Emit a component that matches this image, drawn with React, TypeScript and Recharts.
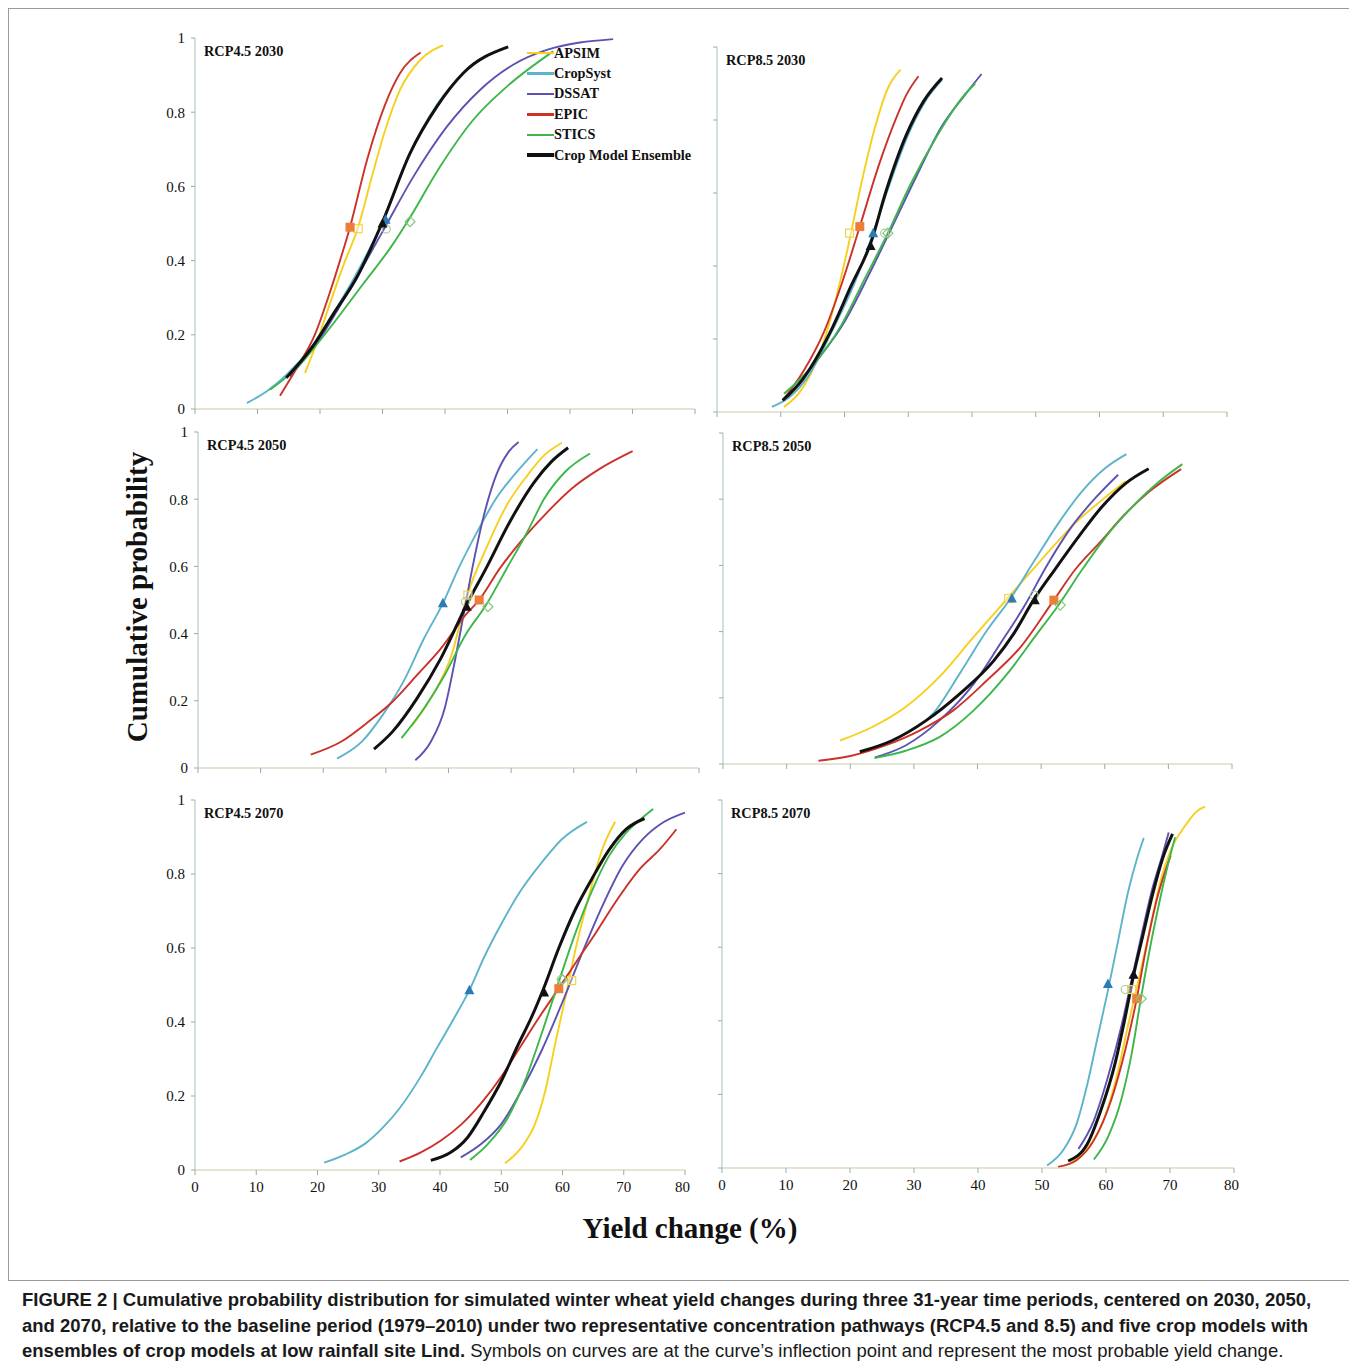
import { ComposedChart, Line, Scatter, XAxis, YAxis } from 'recharts';

const MODELS = ['APSIM', 'CropSyst', 'DSSAT', 'EPIC', 'STICS', 'Crop Model Ensemble'];
const COLORS = ['#F7CF1D', '#5DB4CA', '#5B52B2', '#CB3229', '#3DB64A', '#111111'];
const xTicks = [0, 10, 20, 30, 40, 50, 60, 70, 80];
const yTicks = [0, 0.2, 0.4, 0.6, 0.8, 1];

// [yield change %, cumulative probability]
// RCP4.5 2030
const r45y30Apsim = [[17.6, 0.097], [19.5, 0.18], [21.5, 0.28], [23.8, 0.39], [26.1, 0.49], [28.2, 0.62], [30.4, 0.75], [32.8, 0.86], [36.0, 0.94], [39.7, 0.98]];
const r45y30Cropsyst = [[8.3, 0.016], [11.5, 0.048], [14.7, 0.093], [18.9, 0.174], [22.7, 0.273], [26.4, 0.382], [30.1, 0.508], [34.4, 0.689], [38.7, 0.82], [43.5, 0.914], [50.1, 0.977]];
const r45y30Dssat = [[15.2, 0.088], [20.0, 0.19], [24.3, 0.31], [28.0, 0.418], [30.4, 0.49], [34.9, 0.625], [40.3, 0.761], [45.6, 0.86], [50.9, 0.928], [56.3, 0.968], [66.9, 0.997]];
const r45y30Epic = [[13.6, 0.036], [16.3, 0.111], [19.2, 0.201], [21.5, 0.31], [23.2, 0.4], [24.8, 0.49], [27.5, 0.67], [30.4, 0.82], [32.8, 0.905], [36.1, 0.961]];
const r45y30Stics = [[12.0, 0.052], [16.3, 0.111], [21.6, 0.219], [26.9, 0.337], [31.7, 0.445], [34.1, 0.508], [39.2, 0.653], [44.5, 0.779], [49.9, 0.869], [57.3, 0.964]];
const r45y30Ens = [[14.6, 0.084], [18.9, 0.17], [22.1, 0.255], [25.9, 0.355], [30.0, 0.504], [34.4, 0.689], [38.7, 0.815], [42.9, 0.905], [50.1, 0.976]];
const r45y30Marks = [[26.1, 0.486], [30.5, 0.51], [30.6, 0.485], [24.8, 0.49], [34.4, 0.505], [30.0, 0.5]];

// RCP8.5 2030
const r85y30Apsim = [[10.5, 0.014], [13.0, 0.055], [16.2, 0.165], [18.4, 0.293], [20.5, 0.448], [22.7, 0.631], [24.9, 0.787], [26.8, 0.887], [28.8, 0.938]];
const r85y30Cropsyst = [[8.6, 0.014], [11.4, 0.041], [14.0, 0.09], [18.0, 0.22], [21.5, 0.35], [24.5, 0.49], [27.0, 0.62], [30.0, 0.76], [33.0, 0.86], [35.3, 0.91]];
const r85y30Dssat = [[11.1, 0.041], [15.1, 0.128], [20.0, 0.247], [23.8, 0.375], [27.6, 0.512], [31.4, 0.65], [35.1, 0.778], [38.9, 0.869], [41.5, 0.926]];
const r85y30Epic = [[10.3, 0.032], [13.5, 0.11], [16.8, 0.22], [19.5, 0.348], [22.4, 0.508], [25.4, 0.677], [28.1, 0.805], [29.7, 0.869], [31.6, 0.92]];
const r85y30Stics = [[10.5, 0.05], [14.6, 0.119], [19.5, 0.238], [23.2, 0.366], [26.8, 0.49], [30.3, 0.622], [34.6, 0.759], [38.4, 0.86], [40.5, 0.9]];
const r85y30Ens = [[10.3, 0.032], [13.5, 0.091], [17.8, 0.22], [21.1, 0.348], [24.1, 0.462], [26.5, 0.604], [29.7, 0.759], [32.4, 0.851], [35.3, 0.915]];
const r85y30Marks = [[20.8, 0.49], [24.5, 0.49], [26.3, 0.49], [22.4, 0.508], [26.8, 0.49], [24.1, 0.455]];

// RCP4.5 2050
const r45y50Apsim = [[34.1, 0.124], [37.2, 0.208], [40.5, 0.337], [43.1, 0.52], [46.0, 0.653], [49.3, 0.782], [52.6, 0.871], [55.3, 0.931], [58.1, 0.968]];
const r45y50Cropsyst = [[22.2, 0.028], [26.2, 0.079], [29.5, 0.158], [32.8, 0.257], [36.1, 0.386], [39.1, 0.49], [41.6, 0.594], [44.3, 0.693], [47.6, 0.802], [50.9, 0.881], [54.2, 0.949]];
const r45y50Dssat = [[34.7, 0.023], [37.2, 0.079], [39.4, 0.178], [41.0, 0.317], [42.4, 0.455], [43.8, 0.594], [45.4, 0.733], [47.6, 0.871], [49.6, 0.941], [51.2, 0.97]];
const r45y50Epic = [[18.0, 0.04], [22.9, 0.079], [27.3, 0.139], [31.1, 0.198], [35.0, 0.277], [38.8, 0.356], [42.7, 0.455], [44.9, 0.5], [48.2, 0.594], [51.5, 0.673], [55.3, 0.752], [59.7, 0.832], [64.2, 0.891], [69.4, 0.943]];
const r45y50Stics = [[32.5, 0.089], [36.1, 0.178], [39.4, 0.277], [42.7, 0.396], [46.0, 0.485], [49.3, 0.594], [52.6, 0.703], [55.3, 0.802], [58.6, 0.881], [62.6, 0.936]];
const r45y50Ens = [[28.1, 0.056], [31.1, 0.109], [35.0, 0.208], [38.8, 0.327], [43.0, 0.49], [46.0, 0.594], [49.8, 0.733], [53.7, 0.851], [56.4, 0.911], [59.1, 0.953]];
const r45y50Marks = [[43.1, 0.515], [39.1, 0.49], [42.7, 0.495], [44.9, 0.5], [46.3, 0.48], [42.9, 0.48]];

// RCP8.5 2050
const r85y50Apsim = [[18.4, 0.071], [23.4, 0.111], [28.7, 0.172], [34.0, 0.263], [39.4, 0.384], [44.7, 0.5], [50.0, 0.616], [55.3, 0.727], [59.6, 0.798], [63.3, 0.854]];
const r85y50Cropsyst = [[21.8, 0.037], [27.7, 0.081], [33.0, 0.152], [37.2, 0.273], [41.5, 0.404], [45.2, 0.5], [49.0, 0.616], [52.7, 0.727], [56.4, 0.823], [60.1, 0.894], [63.4, 0.936]];
const r85y50Dssat = [[23.9, 0.02], [28.7, 0.056], [34.0, 0.131], [39.4, 0.242], [43.6, 0.364], [47.3, 0.475], [51.1, 0.606], [54.8, 0.717], [58.5, 0.803], [62.1, 0.874]];
const r85y50Epic = [[15.0, 0.01], [20.2, 0.025], [25.5, 0.056], [30.9, 0.101], [36.2, 0.162], [41.5, 0.253], [46.8, 0.354], [52.0, 0.495], [55.3, 0.586], [59.6, 0.677], [62.8, 0.747], [67.0, 0.823], [72.0, 0.891]];
const r85y50Stics = [[23.8, 0.018], [28.7, 0.04], [34.0, 0.081], [39.4, 0.162], [44.7, 0.273], [49.0, 0.384], [52.8, 0.482], [56.4, 0.586], [60.6, 0.697], [64.9, 0.788], [68.6, 0.854], [72.2, 0.906]];
const r85y50Ens = [[21.5, 0.037], [26.6, 0.071], [31.9, 0.131], [37.2, 0.212], [42.6, 0.313], [45.7, 0.394], [48.8, 0.495], [52.1, 0.586], [55.9, 0.687], [59.6, 0.778], [63.3, 0.848], [66.9, 0.892]];
const r85y50Marks = [[44.9, 0.5], [45.4, 0.5], [48.9, 0.51], [52.0, 0.495], [53.0, 0.48], [49.0, 0.495]];

// RCP4.5 2070
const r45y70Apsim = [[50.6, 0.018], [53.3, 0.061], [55.5, 0.124], [57.2, 0.215], [58.8, 0.341], [60.5, 0.468], [62.1, 0.595], [64.3, 0.74], [66.5, 0.867], [68.6, 0.941]];
const r45y70Cropsyst = [[21.1, 0.02], [24.7, 0.043], [28.0, 0.074], [30.7, 0.115], [33.5, 0.169], [36.8, 0.251], [39.5, 0.33], [42.3, 0.41], [44.8, 0.486], [47.2, 0.575], [50.0, 0.665], [53.3, 0.758], [56.6, 0.831], [59.9, 0.894], [64.0, 0.941]];
const r45y70Dssat = [[43.4, 0.034], [46.7, 0.07], [50.0, 0.124], [53.3, 0.215], [56.6, 0.323], [59.9, 0.45], [63.2, 0.586], [66.5, 0.713], [69.8, 0.822], [73.1, 0.894], [76.4, 0.939], [80.0, 0.966]];
const r45y70Epic = [[33.4, 0.023], [36.8, 0.047], [40.1, 0.079], [43.4, 0.122], [46.7, 0.18], [50.0, 0.252], [53.3, 0.338], [56.6, 0.423], [59.4, 0.491], [62.1, 0.559], [65.4, 0.64], [68.7, 0.725], [72.6, 0.813], [75.9, 0.867], [78.6, 0.921]];
const r45y70Stics = [[44.9, 0.027], [47.8, 0.07], [51.1, 0.142], [53.9, 0.242], [56.6, 0.369], [59.4, 0.509], [62.1, 0.64], [64.9, 0.758], [67.6, 0.849], [70.4, 0.912], [73.1, 0.953], [74.8, 0.976]];
const r45y70Ens = [[38.5, 0.026], [41.7, 0.047], [44.5, 0.088], [47.2, 0.158], [50.0, 0.24], [52.8, 0.34], [55.0, 0.415], [56.9, 0.49], [59.4, 0.6], [62.1, 0.704], [64.9, 0.79], [67.6, 0.865], [70.4, 0.921], [73.4, 0.95]];
const r45y70Marks = [[61.5, 0.512], [44.8, 0.486], [59.8, 0.515], [59.4, 0.49], [60.0, 0.515], [57.0, 0.48]];

// RCP8.5 2070
const r85y70Apsim = [[54.4, 0.014], [57.1, 0.052], [59.8, 0.138], [61.9, 0.265], [63.5, 0.392], [65.2, 0.519], [66.8, 0.645], [68.4, 0.772], [70.3, 0.871], [72.2, 0.926], [74.3, 0.971], [75.5, 0.982]];
const r85y70Cropsyst = [[50.8, 0.007], [53.3, 0.048], [55.4, 0.12], [57.1, 0.229], [58.7, 0.356], [60.3, 0.482], [61.9, 0.618], [63.5, 0.754], [64.9, 0.844], [65.9, 0.897]];
const r85y70Dssat = [[55.7, 0.052], [58.1, 0.129], [60.3, 0.247], [62.5, 0.392], [64.1, 0.519], [65.7, 0.645], [67.3, 0.763], [68.7, 0.844], [69.8, 0.912]];
const r85y70Epic = [[52.5, 0.003], [55.4, 0.021], [58.1, 0.075], [60.8, 0.184], [63.0, 0.32], [64.8, 0.46], [66.2, 0.591], [67.9, 0.727], [70.1, 0.849]];
const r85y70Stics = [[58.1, 0.023], [60.3, 0.084], [62.5, 0.193], [64.1, 0.319], [65.4, 0.455], [66.8, 0.591], [68.4, 0.727], [69.7, 0.826], [70.8, 0.899]];
const r85y70Ens = [[54.1, 0.019], [57.1, 0.066], [59.2, 0.157], [61.4, 0.283], [63.0, 0.41], [64.3, 0.523], [65.7, 0.627], [67.3, 0.745], [68.9, 0.844], [70.4, 0.908]];
const r85y70Marks = [[64.0, 0.485], [60.3, 0.5], [63.0, 0.485], [64.8, 0.46], [65.5, 0.46], [64.3, 0.525]];

const toRows = (pts: number[][]) => pts.map(([x, y]) => ({ x, y }));

// plot-area boxes are in page pixels
const PANELS = [
  { title: 'RCP4.5 2030', series: [r45y30Apsim, r45y30Cropsyst, r45y30Dssat, r45y30Epic, r45y30Stics, r45y30Ens], marks: r45y30Marks, x: 195, y: 38, w: 500, h: 371, yLab: true, xLab: false },
  { title: 'RCP8.5 2030', series: [r85y30Apsim, r85y30Cropsyst, r85y30Dssat, r85y30Epic, r85y30Stics, r85y30Ens], marks: r85y30Marks, x: 717, y: 47, w: 510, h: 365, yLab: false, xLab: false },
  { title: 'RCP4.5 2050', series: [r45y50Apsim, r45y50Cropsyst, r45y50Dssat, r45y50Epic, r45y50Stics, r45y50Ens], marks: r45y50Marks, x: 198, y: 432, w: 501, h: 336, yLab: true, xLab: false },
  { title: 'RCP8.5 2050', series: [r85y50Apsim, r85y50Cropsyst, r85y50Dssat, r85y50Epic, r85y50Stics, r85y50Ens], marks: r85y50Marks, x: 723, y: 433, w: 509, h: 331, yLab: false, xLab: false },
  { title: 'RCP4.5 2070', series: [r45y70Apsim, r45y70Cropsyst, r45y70Dssat, r45y70Epic, r45y70Stics, r45y70Ens], marks: r45y70Marks, x: 195, y: 800, w: 490, h: 370, yLab: true, xLab: true },
  { title: 'RCP8.5 2070', series: [r85y70Apsim, r85y70Cropsyst, r85y70Dssat, r85y70Epic, r85y70Stics, r85y70Ens], marks: r85y70Marks, x: 722, y: 800, w: 512, h: 368, yLab: false, xLab: true },
];

const SERIF = '"Liberation Serif", "DejaVu Serif", serif';

function Marker({ cx, cy, kind }: { cx?: number; cy?: number; kind: number }) {
  if (cx == null || cy == null) return null;
  if (kind === 0) return <rect x={cx - 4} y={cy - 4} width={8} height={8} fill="#fff" fillOpacity={0.4} stroke="#F3D24E" strokeWidth={1.2} />;
  if (kind === 3) return <rect x={cx - 4.5} y={cy - 4.5} width={9} height={9} fill="#EE7D3A" />;
  if (kind === 1 || kind === 5)
    return <polygon points={`${cx},${cy - 5.5} ${cx + 5},${cy + 4} ${cx - 5},${cy + 4}`} fill={kind === 1 ? '#2B7BB5' : '#111'} />;
  if (kind === 2) return <circle cx={cx} cy={cy} r={4} fill="none" stroke="#A7CDA0" strokeWidth={1.2} />;
  return <polygon points={`${cx},${cy - 5} ${cx + 5},${cy} ${cx},${cy + 5} ${cx - 5},${cy}`} fill="none" stroke="#86C77C" strokeWidth={1.2} />;
}

function Panel({ p }: { p: (typeof PANELS)[number] }) {
  const axisFont = { fontSize: 15, fill: '#111', fontFamily: SERIF };
  return (
    <>
      <div style={{ position: 'absolute', left: p.x - 8 - 45, top: p.y - 8 - 10 }}>
        <ComposedChart width={p.w + 50} height={p.h + 40} margin={{ top: 10, right: 5, bottom: 0, left: 0 }}>
          <XAxis
            type="number"
            dataKey="x"
            domain={[0, 80]}
            ticks={xTicks}
            height={30}
            tickSize={5}
            tickMargin={6}
            tick={axisFont}
            tickFormatter={(v) => (p.xLab ? String(v) : '')}
            axisLine={{ stroke: '#C9C9A6' }}
            tickLine={{ stroke: '#9aa' }}
          />
          <XAxis xAxisId="top" orientation="top" type="number" domain={[0, 80]} height={0} tick={false} tickLine={false} axisLine={{ stroke: '#2a2a3a', strokeWidth: 1.3 }} />
          <YAxis
            type="number"
            domain={[0, 1]}
            ticks={yTicks}
            width={45}
            tickSize={4}
            tickMargin={6}
            tick={axisFont}
            tickFormatter={(v) => (p.yLab ? String(v) : '')}
            axisLine={{ stroke: '#A9BFC0' }}
            tickLine={{ stroke: '#9aa' }}
          />
          <YAxis yAxisId="right" orientation="right" type="number" domain={[0, 1]} width={0} tick={false} tickLine={false} axisLine={{ stroke: '#555', strokeWidth: 1.2 }} />
          {p.series.map((pts, i) => (
            <Line
              key={MODELS[i]}
              data={toRows(pts)}
              dataKey="y"
              type="monotone"
              stroke={COLORS[i]}
              strokeWidth={i === 5 ? 3 : 1.9}
              dot={false}
              isAnimationActive={false}
            />
          ))}
          {p.marks.map((m, i) => (
            <Scatter
              key={'m' + MODELS[i]}
              data={[{ x: m[0], y: m[1] }]}
              dataKey="y"
              shape={(sp: any) => <Marker cx={sp.cx} cy={sp.cy} kind={i} />}
              isAnimationActive={false}
            />
          ))}
        </ComposedChart>
      </div>
      <div
        style={{
          position: 'absolute',
          left: p.x - 8 + 9,
          top: p.y - 8 + 5,
          fontFamily: SERIF,
          fontWeight: 'bold',
          fontSize: 14.3,
          color: '#111',
        }}
      >
        {p.title}
      </div>
    </>
  );
}

function ModelLegend() {
  return (
    <div style={{ position: 'absolute', left: 527 - 8, top: 43 - 8, fontFamily: SERIF, fontWeight: 'bold', fontSize: 14.3, color: '#111' }}>
      {MODELS.map((m, i) => (
        <div key={m} style={{ display: 'flex', alignItems: 'center', height: 20.4 }}>
          <span style={{ display: 'inline-block', width: 27, height: i === 5 ? 3.5 : 2.5, background: COLORS[i] }} />
          <span>{m}</span>
        </div>
      ))}
    </div>
  );
}

export default function App() {
  return (
    <div style={{ position: 'relative', width: 1349, height: 1362, background: '#fff' }}>
      <div style={{ position: 'absolute', left: 0, top: 0, width: 1347, height: 1271, border: '1px solid #9a9a9a' }} />
      {PANELS.map((p) => (
        <Panel key={p.title} p={p} />
      ))}
      <ModelLegend />
      <div
        style={{
          position: 'absolute',
          left: 137 - 8,
          top: 597 - 8,
          transform: 'translate(-50%, -50%) rotate(-90deg)',
          fontFamily: SERIF,
          fontWeight: 'bold',
          fontSize: 29,
          whiteSpace: 'nowrap',
          color: '#111',
        }}
      >
        Cumulative probability
      </div>
      <div
        style={{
          position: 'absolute',
          left: 690 - 8,
          top: 1228 - 8,
          transform: 'translate(-50%, -50%)',
          fontFamily: SERIF,
          fontWeight: 'bold',
          fontSize: 29,
          whiteSpace: 'nowrap',
          color: '#111',
        }}
      >
        Yield change (%)
      </div>
      <div
        style={{
          position: 'absolute',
          left: 22 - 8,
          top: 1287 - 8,
          fontFamily: '"Liberation Sans", Arial, sans-serif',
          fontSize: 18.5,
          lineHeight: '25.5px',
          color: '#1a1a1a',
          whiteSpace: 'nowrap',
        }}
      >
        <b>
          FIGURE 2 | Cumulative probability distribution for simulated winter wheat yield changes during three 31-year time periods, centered on 2030, 2050,
          <br />
          and 2070, relative to the baseline period (1979–2010) under two representative concentration pathways (RCP4.5 and 8.5) and five crop models with
          <br />
          ensembles of crop models at low rainfall site Lind.
        </b>{' '}
        Symbols on curves are at the curve’s inflection point and represent the most probable yield change.
      </div>
    </div>
  );
}
